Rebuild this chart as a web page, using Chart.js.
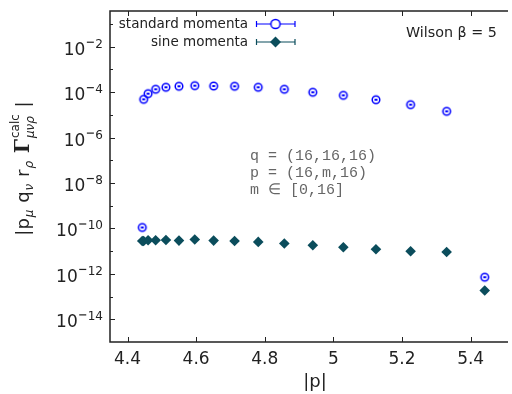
<!DOCTYPE html>
<html>
<head>
<meta charset="utf-8">
<script src="https://cdn.jsdelivr.net/npm/chart.js@4.4.0/dist/chart.umd.min.js"></script>
<style>
    html, body { margin: 0; padding: 0; background: #fff; }
    #wrap { width: 512px; height: 394px; }
</style>
</head>
<body>
<div id="wrap"><canvas id="chart" width="512" height="394"></canvas></div>
<script>
// |p| for p = (16,m,16), m = 0..16
const pAbs = [4.443, 4.447, 4.460, 4.482, 4.512, 4.550, 4.596, 4.651, 4.712,
              4.781, 4.857, 4.940, 5.029, 5.124, 5.225, 5.330, 5.441];
// |p_mu q_nu r_rho Gamma|
const standardMomenta = [1.1e-10, 4.8e-5, 8.5e-5, 1.33e-4, 1.63e-4, 1.80e-4, 1.91e-4, 1.85e-4, 1.80e-4,
                         1.63e-4, 1.33e-4, 9.8e-5, 7.2e-5, 4.6e-5, 2.8e-5, 1.42e-5, 7.1e-13];
const sineMomenta = [2.8e-11, 2.8e-11, 3.0e-11, 3.0e-11, 3.1e-11, 2.9e-11, 3.25e-11, 2.9e-11, 2.8e-11,
                     2.55e-11, 2.16e-11, 1.82e-11, 1.49e-11, 1.21e-11, 9.9e-12, 9.2e-12, 1.84e-13];

const xTicks = [4.4, 4.6, 4.8, 5.0, 5.2, 5.4];
const yTickExps = [-2, -4, -6, -8, -10, -12, -14];
const yMinorExps = [-1, -3, -5, -7, -9, -11, -13];
const seriesNames = ['standard momenta', 'sine momenta'];
const infoLines = ['q = (16,16,16)', 'p = (16,m,16)', 'm \u2208 [0,16]'];

const BLUE = '#0000ff';
const TEAL = '#0b4d5c';
const INK = '#222';

// open circle with the small error bar inside
function makeCircleMarker(r, color, withBar) {
    const s = Math.ceil(r * 2 + 4);
    const c = document.createElement('canvas');
    c.width = s;
    c.height = s;
    const g = c.getContext('2d');
    g.strokeStyle = color;
    g.lineWidth = 1.5;
    g.beginPath();
    g.arc(s / 2, s / 2, r, 0, Math.PI * 2);
    g.stroke();
    if (withBar) {
        g.fillStyle = color;
        g.fillRect(s / 2 - 1.5, s / 2 - 1, 3, 2);
    }
    return c;
}

const circleMarker = makeCircleMarker(3.8, BLUE, true);

// spines, inward ticks, y labels, titles, legend, annotations
const decorations = {
    id: 'decorations',
    afterDraw(chart) {
        const ctx = chart.ctx;
        const a = chart.chartArea;
        const xs = chart.scales.x;
        const ys = chart.scales.y;
        ctx.save();

        // spines (left, bottom, top)
        ctx.strokeStyle = INK;
        ctx.lineWidth = 1.5;
        ctx.beginPath();
        ctx.moveTo(a.right + 2, a.top);
        ctx.lineTo(a.left, a.top);
        ctx.lineTo(a.left, a.bottom);
        ctx.lineTo(a.right + 2, a.bottom);
        ctx.stroke();

        // x ticks, bottom and top
        ctx.lineWidth = 1;
        xTicks.forEach(v => {
            const px = Math.round(xs.getPixelForValue(v)) + 0.5;
            ctx.beginPath();
            ctx.moveTo(px, a.bottom);
            ctx.lineTo(px, a.bottom - 5);
            ctx.moveTo(px, a.top);
            ctx.lineTo(px, a.top + 5);
            ctx.stroke();
        });

        // y ticks
        yTickExps.forEach(e => {
            const py = Math.round(ys.getPixelForValue(Math.pow(10, e))) + 0.5;
            ctx.beginPath();
            ctx.moveTo(a.left, py);
            ctx.lineTo(a.left + 5, py);
            ctx.stroke();
        });
        yMinorExps.forEach(e => {
            const py = Math.round(ys.getPixelForValue(Math.pow(10, e))) + 0.5;
            ctx.beginPath();
            ctx.moveTo(a.left, py);
            ctx.lineTo(a.left + 3, py);
            ctx.stroke();
        });

        // y tick labels 10^e
        ctx.fillStyle = INK;
        ctx.textBaseline = 'alphabetic';
        ctx.textAlign = 'left';
        yTickExps.forEach(e => {
            const py = ys.getPixelForValue(Math.pow(10, e));
            ctx.font = '17px "DejaVu Sans"';
            const baseW = ctx.measureText('10').width;
            ctx.font = '12px "DejaVu Sans"';
            const digits = String(-e);
            const supW = 10 + ctx.measureText(digits).width;
            const x0 = a.left - 7 - supW - baseW;
            ctx.font = '17px "DejaVu Sans"';
            ctx.fillText('10', x0, py + 8);
            // minus sign
            ctx.fillRect(x0 + baseW + 1.5, py - 5, 7, 1.2);
            ctx.font = '12px "DejaVu Sans"';
            ctx.fillText(digits, x0 + baseW + 10, py + 1);
        });

        // x title
        ctx.font = '18px "DejaVu Sans"';
        ctx.textAlign = 'center';
        ctx.fillText('|p|', 315, 387);

        // y title, rotated
        drawYTitle(ctx);

        // legend
        ctx.font = '13.5px "DejaVu Sans"';
        ctx.textAlign = 'right';
        ctx.textBaseline = 'middle';
        ctx.fillStyle = INK;
        ctx.fillText(seriesNames[0], 248, 24);
        ctx.fillText(seriesNames[1], 248, 42);
        drawLegendBar(ctx, 24, BLUE);
        drawLegendBar(ctx, 42, TEAL);
        const big = makeCircleMarker(4.6, BLUE, false);
        ctx.fillStyle = '#fff';
        ctx.beginPath();
        ctx.arc(275.5, 24, 4.6, 0, Math.PI * 2);
        ctx.fill();
        ctx.drawImage(big, 275.5 - big.width / 2, 24 - big.height / 2);
        ctx.fillStyle = TEAL;
        ctx.beginPath();
        ctx.moveTo(275.5, 42 - 5.5);
        ctx.lineTo(281, 42);
        ctx.lineTo(275.5, 42 + 5.5);
        ctx.lineTo(270, 42);
        ctx.closePath();
        ctx.fill();

        // Wilson beta
        ctx.font = '14.3px "DejaVu Sans"';
        ctx.textAlign = 'left';
        ctx.textBaseline = 'alphabetic';
        ctx.fillStyle = INK;
        ctx.fillText('Wilson \u03b2 = 5', 406, 36.5);

        // momentum configuration
        ctx.font = '15px "Liberation Mono"';
        ctx.fillStyle = '#666';
        infoLines.forEach((t, i) => ctx.fillText(t, 250, 160 + i * 17));

        ctx.restore();
    }
};

function drawLegendBar(ctx, y, color) {
    ctx.strokeStyle = color;
    ctx.lineWidth = 1.2;
    ctx.beginPath();
    ctx.moveTo(256.5, y);
    ctx.lineTo(295, y);
    ctx.moveTo(256.5, y - 3);
    ctx.lineTo(256.5, y + 3);
    ctx.moveTo(295, y - 3);
    ctx.lineTo(295, y + 3);
    ctx.stroke();
}

function drawYTitle(ctx) {
    const main = '18px "DejaVu Sans"';
    const sub = 'italic 12px "DejaVu Sans"';
    const sup = '12px "DejaVu Sans"';
    const parts = [
        { t: '|p', f: main, dy: 0 },
        { t: '\u03bc', f: sub, dy: 4 },
        { t: ' q', f: main, dy: 0 },
        { t: '\u03bd', f: sub, dy: 4 },
        { t: ' r', f: main, dy: 0 },
        { t: '\u03c1', f: sub, dy: 4 },
        { t: ' ', f: main, dy: 0 },
        { t: '\u0393', f: 'bold 20px "DejaVu Serif"', dy: 0 },
        { t: 'calc', f: sup, dy: -10, stackSub: '\u03bc\u03bd\u03c1' },
        { t: ' |', f: main, dy: 0 }
    ];
    ctx.save();
    ctx.translate(29, 168);
    ctx.rotate(-Math.PI / 2);
    ctx.fillStyle = INK;
    ctx.textAlign = 'left';
    ctx.textBaseline = 'alphabetic';
    let total = 0;
    parts.forEach(p => {
        ctx.font = p.f;
        p.w = ctx.measureText(p.t).width + 1;
        if (p.stackSub) {
            ctx.font = sub;
            p.w = Math.max(p.w, ctx.measureText(p.stackSub).width + 1);
        }
        total += p.w;
    });
    let x = -total / 2;
    parts.forEach(p => {
        ctx.font = p.f;
        ctx.fillText(p.t, x, p.dy);
        if (p.stackSub) {
            ctx.font = sub;
            ctx.fillText(p.stackSub, x, 5);
        }
        x += p.w;
    });
    ctx.restore();
}

const chart = new Chart(document.getElementById('chart'), {
    type: 'scatter',
    data: {
        datasets: [
            {
                label: seriesNames[0],
                data: pAbs.map((x, i) => ({ x: x, y: standardMomenta[i] })),
                pointStyle: circleMarker,
                pointRadius: 5,
                borderColor: BLUE,
                backgroundColor: BLUE
            },
            {
                label: seriesNames[1],
                data: pAbs.map((x, i) => ({ x: x, y: sineMomenta[i] })),
                pointStyle: 'rectRot',
                pointRadius: 5.3,
                borderWidth: 0,
                borderColor: TEAL,
                backgroundColor: TEAL
            }
        ]
    },
    options: {
        responsive: false,
        animation: false,
        layout: { padding: { top: 11, right: 0, left: 0, bottom: 0 } },
        plugins: {
            legend: { display: false },
            tooltip: { enabled: false }
        },
        scales: {
            x: {
                type: 'linear',
                min: 4.349,
                max: 5.503,
                grid: { display: false, drawTicks: false },
                border: { display: false },
                afterBuildTicks: scale => {
                    scale.ticks = xTicks.map(v => ({ value: v }));
                },
                afterFit: scale => { scale.height = 52; },
                ticks: {
                    color: INK,
                    padding: 7,
                    maxRotation: 0,
                    font: { family: 'DejaVu Sans', size: 17 },
                    callback: v => (v === 5 ? '5' : v.toFixed(1))
                }
            },
            y: {
                type: 'logarithmic',
                min: 1e-15,
                max: 0.37,
                grid: { display: false, drawTicks: false },
                border: { display: false },
                afterFit: scale => { scale.width = 110; },
                ticks: { display: false }
            }
        }
    },
    plugins: [decorations]
});
</script>
</body>
</html>
